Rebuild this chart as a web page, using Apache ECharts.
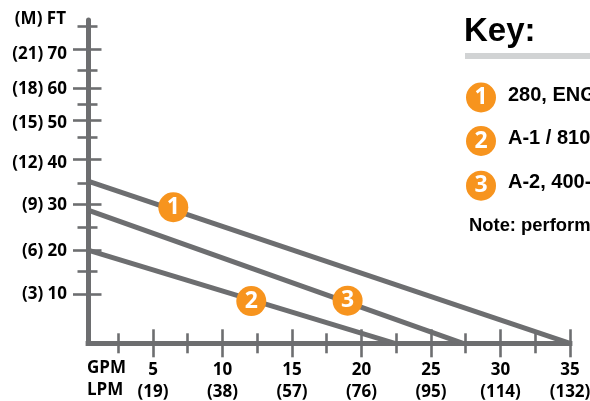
<!DOCTYPE html>
<html>
<head>
<meta charset="utf-8">
<style>html,body{margin:0;padding:0;background:#fff;overflow:hidden}#c{width:590px;height:401px}</style>
<script src="https://cdn.jsdelivr.net/npm/echarts@6/dist/echarts.min.js"></script>
</head>
<body>
<div id="c"></div>
<script>
// Horizontal axis: flow in GPM, with the LPM equivalent below
const gpmTicks = [5, 10, 15, 20, 25, 30, 35];
const lpmTicks = [19, 38, 57, 76, 95, 114, 132];
const gpmMinorTicks = [2.5, 7.5, 12.5, 17.5, 22.5, 27.5, 32.5];
const flowAxisStart = 0.324;
const flowAxisEnd = 35;

// Vertical axis: the printed scale is uneven, so values are stated as axis positions
const headTicks = [11.6, 22.2, 33.2, 43.8, 53.2, 60.8, 70];
const headLabelSpots = [11.65, 21.95, 32.8, 42.95, 52.45, 60.45, 68.95];
const headMinorTicks = [17.05, 27.6, 38.2, 49.0, 56.9, 65.1, 75.5];
const feetLabels = [10, 20, 30, 40, 50, 60, 70];
const meterLabels = [3, 6, 9, 12, 15, 18, 21];
const headAxisEnd = 77;

// Performance lines
const pump1Flow = [flowAxisStart, 35];
const pump1Head = [38.6, 0];
const pump2Flow = [flowAxisStart, 22.4];
const pump2Head = [22.2, 0];
const pump3Flow = [flowAxisStart, 27.3];
const pump3Head = [31.7, 0];

// Numbered badges on the lines
const badgeNames = ['1', '2', '3'];
const badgeFlow = [6.46, 12.07, 19.0];
const badgeHead = [32.4, 10.07, 10.15];

// Key
const keyTitle = 'Key:';
const keyEntries = ['280, ENG', 'A-1 / 810', 'A-2, 400-'];
const keyNote = 'Note: perform';

const GREY = '#6d6e70', ORANGE = '#f7941e', LABEL_FONT = '"Open Sans"', KEY_FONT = '"Liberation Sans"';
const LABEL_SIZE = 17;

function xAxisFor(ticks, len, inside, main) {
  return {
    type: 'value', min: flowAxisStart, max: flowAxisEnd, position: 'bottom',
    axisLine: { show: !!main, onZero: false, lineStyle: { color: GREY, width: 4.8, cap: 'square' } },
    splitLine: { show: false },
    axisTick: { show: true, inside, length: len, customValues: ticks, lineStyle: { color: GREY, width: 2.6 } },
    axisLabel: main ? {
      show: true, customValues: gpmTicks, margin: 16, color: '#000',
      formatter: v => '{a|' + v + '}\n{a|(' + lpmTicks[gpmTicks.indexOf(v)] + ')}',
      rich: { a: { fontFamily: LABEL_FONT, fontWeight: 700, fontSize: LABEL_SIZE, lineHeight: 22, color: '#000' } }
    } : { show: false }
  };
}
function yAxisFor(ticks, len, inside, main) {
  return {
    type: 'value', min: 0, max: headAxisEnd, position: 'left',
    name: main ? '(M) FT' : '', nameLocation: 'end', nameGap: 1,
    nameTextStyle: { fontFamily: LABEL_FONT, fontWeight: 700, fontSize: LABEL_SIZE, color: '#000', align: 'right', verticalAlign: 'middle', padding: [0, 22, 0, 0] },
    axisLine: { show: !!main, onZero: false, lineStyle: { color: GREY, width: 5, cap: 'round' } },
    splitLine: { show: false },
    axisTick: { show: true, inside, length: len, customValues: ticks, lineStyle: { color: GREY, width: 2.6 } },
    axisLabel: main ? {
      show: true, customValues: headLabelSpots, margin: 21, color: '#000',
      fontFamily: LABEL_FONT, fontWeight: 700, fontSize: LABEL_SIZE,
      formatter: v => { const i = headLabelSpots.indexOf(v); return '(' + meterLabels[i] + ') ' + feetLabels[i]; }
    } : { show: false }
  };
}
function pumpLine(flow, head) {
  return {
    type: 'line', data: flow.map((f, i) => [f, head[i]]), showSymbol: false, clip: false, silent: true,
    lineStyle: { color: GREY, width: 5, cap: 'butt' }, z: 2
  };
}

const keyGraphics = [];
keyGraphics.push({ type: 'text', left: 464, top: 15, style: { text: keyTitle, font: '700 33px ' + KEY_FONT, fill: '#000' } });
keyGraphics.push({ type: 'rect', left: 465, top: 53, shape: { width: 125, height: 6 }, style: { fill: '#d1d3d4' } });
const keyRowY = [97.5, 141, 185.7];
const keyTextY = [95.5, 138.5, 182.5];
keyEntries.forEach((t, i) => {
  keyGraphics.push({ type: 'circle', shape: { cx: 481, cy: keyRowY[i], r: 15 }, style: { fill: ORANGE } });
  keyGraphics.push({ type: 'text', x: 481, y: keyRowY[i], style: { text: badgeNames[i], font: '700 23px ' + LABEL_FONT, fill: '#fff', align: 'center', verticalAlign: 'middle' } });
  keyGraphics.push({ type: 'text', x: 508, y: keyTextY[i], style: { text: t, font: '700 20px ' + KEY_FONT, fill: '#000', verticalAlign: 'middle' } });
});
keyGraphics.push({ type: 'text', x: 469, y: 226, style: { text: keyNote, font: '700 18.4px ' + KEY_FONT, fill: '#000', verticalAlign: 'middle' } });
keyGraphics.push({ type: 'text', x: 87, y: 368, style: { text: 'GPM', font: '700 ' + LABEL_SIZE + 'px ' + LABEL_FONT, fill: '#000', verticalAlign: 'middle' } });
keyGraphics.push({ type: 'text', x: 87, y: 390, style: { text: 'LPM', font: '700 ' + LABEL_SIZE + 'px ' + LABEL_FONT, fill: '#000', verticalAlign: 'middle' } });

const chart = echarts.init(document.getElementById('c'), null, { renderer: 'canvas' });
chart.setOption({
  animation: false,
  backgroundColor: '#fff',
  grid: { left: 88, top: 20, width: 482, height: 323.3, outerBoundsMode: 'none', containLabel: false },
  xAxis: [
    xAxisFor(gpmTicks, 14, false, true),
    xAxisFor(gpmTicks, 14, true, false),
    xAxisFor(gpmMinorTicks, 10, false, false),
    xAxisFor(gpmMinorTicks, 10, true, false)
  ],
  yAxis: [
    yAxisFor(headTicks, 15, false, true),
    yAxisFor(headTicks, 13.5, true, false),
    yAxisFor(headMinorTicks, 10.5, false, false),
    yAxisFor(headMinorTicks, 9.5, true, false)
  ],
  series: [
    pumpLine(pump1Flow, pump1Head),
    pumpLine(pump2Flow, pump2Head),
    pumpLine(pump3Flow, pump3Head),
    {
      type: 'scatter', symbol: 'circle', symbolSize: 30, silent: true, z: 5,
      itemStyle: { color: ORANGE, opacity: 1 },
      data: badgeFlow.map((f, i) => [f, badgeHead[i], badgeNames[i]]),
      label: { show: true, position: 'inside', formatter: p => p.value[2], color: '#fff', fontFamily: LABEL_FONT, fontWeight: 700, fontSize: 23 }
    }
  ],
  graphic: keyGraphics
});
</script>
</body>
</html>
